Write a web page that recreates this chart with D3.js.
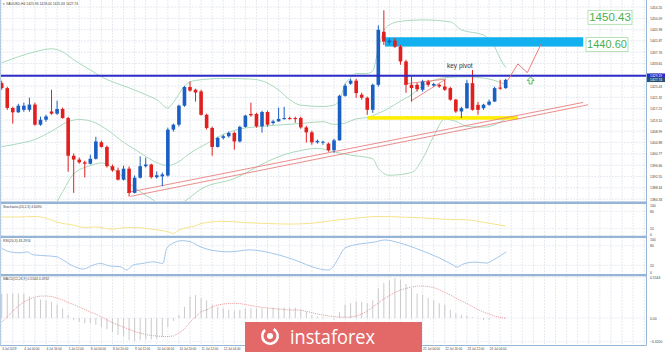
<!DOCTYPE html>
<html>
<head>
<meta charset="utf-8">
<script src="https://cdn.jsdelivr.net/npm/d3@7"></script>
<style>
  body { margin: 0; background: #fff; }
  svg { display: block; font-family: "Liberation Sans", Arial, sans-serif; }
</style>
</head>
<body>
<svg id="chart" width="665" height="352"></svg>
<script>
// XAUUSD H4 candles, index 0 = 3 Jul 2019
const candleOpen = [1426.5,1424.7,1417.5,1415.9,1416.8,1416.8,1418.7,1411.4,1413.2,1416.2,
  1415.4,1417.1,1413.8,1400.1,1398.7,1397.7,1397.2,1399.0,1405.0,1403.3,
  1396.3,1394.8,1391.4,1395.4,1386.6,1392.1,1396.3,1396.9,1392.3,1392.6,
  1392.9,1409.6,1411.4,1418.3,1425.1,1424.1,1423.5,1415.0,1410.2,1403.3,
  1406.6,1407.2,1408.4,1405.3,1410.6,1415.3,1415.3,1410.8,1416.0,1412.0,
  1412.6,1413.5,1413.8,1413.8,1413.8,1410.4,1408.6,1405.0,1404.9,1404.5,
  1402.1,1405.7,1421.9,1426.3,1427.4,1422.3,1421.2,1416.8,1425.9,1445.2,
  1441.4,1442.0,1439.8,1434.4,1425.9,1425.9,1424.1,1427.1,1425.65,1425.9,
  1425.3,1424.7,1420.5,1416.2,1417.4,1426.5,1418.6,1417.4,1418.65,1419.8,
  1424.9,1424.7];
const candleHigh = [1427.4,1425.2,1417.9,1419.0,1419.4,1421.2,1419.4,1414.3,1415.0,1424.1,
  1420.1,1417.6,1414.3,1400.9,1399.4,1398.3,1400.5,1407.0,1405.6,1403.8,
  1396.9,1395.8,1396.5,1396.2,1392.9,1399.9,1399.4,1397.2,1394.4,1394.0,
  1410.3,1411.8,1418.7,1425.5,1427.1,1424.5,1424.1,1415.4,1410.7,1407.0,
  1407.8,1408.9,1408.9,1411.0,1415.0,1419.4,1415.7,1416.5,1416.5,1413.2,
  1417.6,1417.9,1414.3,1414.3,1414.3,1411.0,1409.2,1406.0,1405.6,1404.9,
  1406.3,1422.3,1426.3,1428.1,1428.1,1423.0,1421.6,1426.3,1447.5,1453.0,
  1442.9,1442.9,1440.4,1435.0,1428.9,1426.6,1427.7,1427.7,1426.6,1426.3,
  1427.7,1425.2,1420.8,1417.9,1427.7,1431.3,1419.7,1419.0,1420.5,1425.2,
  1427.7,1428.1];
const candleLow = [1424.1,1416.8,1411.8,1415.7,1416.1,1416.1,1411.0,1411.0,1412.5,1415.0,
  1415.0,1413.6,1394.3,1386.6,1397.2,1392.2,1396.9,1398.7,1403.1,1395.8,
  1394.3,1391.1,1391.1,1385.3,1386.4,1391.8,1395.8,1391.8,1391.8,1389.0,
  1392.5,1408.9,1410.7,1417.9,1423.4,1419.8,1414.7,1409.6,1400.1,1403.1,
  1406.0,1406.7,1402.3,1404.9,1410.3,1414.3,1410.3,1408.5,1410.7,1411.4,
  1412.5,1413.2,1413.2,1412.1,1409.9,1404.9,1404.1,1404.5,1404.1,1401.6,
  1401.2,1405.6,1421.6,1425.9,1421.2,1420.5,1415.0,1415.7,1425.2,1440.4,
  1440.4,1439.3,1433.2,1423.0,1419.8,1423.4,1423.4,1425.2,1425.2,1424.8,
  1423.7,1420.1,1415.7,1413.8,1417.2,1416.5,1415.0,1416.8,1418.3,1419.7,
  1424.1,1424.45];
const candleClose = [1424.7,1417.5,1415.9,1418.3,1418.3,1418.7,1411.4,1413.2,1414.4,1415.4,
  1417.1,1413.8,1400.1,1398.7,1397.7,1397.2,1399.0,1405.3,1403.3,1396.3,
  1394.8,1391.4,1395.4,1386.6,1392.1,1396.3,1396.9,1392.3,1393.0,1393.3,
  1409.6,1411.4,1418.3,1425.1,1423.8,1423.1,1415.0,1410.2,1403.3,1406.6,
  1407.2,1408.4,1405.3,1410.6,1414.7,1414.8,1410.8,1416.0,1411.4,1412.6,
  1413.5,1413.8,1413.6,1413.6,1410.4,1408.6,1405.0,1405.5,1405.2,1402.1,
  1405.7,1421.9,1425.6,1427.4,1422.9,1421.2,1416.8,1425.9,1445.9,1441.6,
  1442.0,1439.8,1434.4,1425.9,1424.7,1424.3,1427.1,1425.9,1426.2,1425.3,
  1424.1,1420.5,1416.2,1417.4,1426.5,1416.8,1416.8,1418.65,1419.8,1424.7,
  1424.5,1427.7];

// Bollinger bands, read at these candle indices
const bandUpperIdx = [0,3,6,9,11,13,16,18,20,23,26,28,30,31,32,33,35,40,45,48,50,52,54,58,60,61,62,63,64,66,67,68,69,70,72,76,81,83,87,89,90,91];
const bandUpper = [1433.9,1436.1,1437.9,1439.0,1437.9,1435.0,1431.3,1428.8,1427.0,1424.8,1422.3,1420.5,1417.5,1419.5,1422.5,1425.5,1427.5,1428.2,1428.0,1426.5,1424.0,1420.5,1418.5,1418.0,1418.5,1420.5,1426.0,1428.5,1430.0,1430.0,1431.0,1439.0,1445.5,1447.7,1449.0,1449.5,1448.8,1445.9,1444.0,1439.7,1435.5,1432.1];
const bandMidIdx = [0,3,6,9,12,14,17,19,22,25,28,30,32,34,37,40,43,47,51,55,58,60,62,64,66,68,70,72,74,76,78,80,84,88,91];
const bandMid = [1403.4,1404.5,1406.0,1409.0,1412.5,1413.3,1412.0,1409.6,1405.0,1401.2,1397.6,1396.5,1398.0,1401.0,1404.5,1407.8,1409.8,1410.8,1411.4,1412.0,1412.5,1411.5,1412.0,1413.5,1414.0,1415.5,1417.5,1420.0,1422.3,1425.5,1427.5,1428.5,1428.8,1428.0,1426.0];
const bandLowerIdx = [0,3,6,9,11,13,16,18,21,24,27,30,33,36,42,48,51,54,57,60,63,66,67,68,70,74,76,78,80,82,84,87,91];
const bandLower = [1372.9,1373.0,1374.0,1380.0,1387.0,1393.5,1396.5,1397.5,1394.0,1388.5,1384.5,1381.0,1383.5,1388.0,1391.8,1398.0,1400.5,1402.0,1402.8,1401.5,1400.3,1399.5,1399.0,1395.5,1393.0,1394.0,1399.0,1407.2,1413.4,1412.6,1410.8,1410.5,1413.4];

// oscillator panels
const stochIdx = [0,3,6,8,10,13,15,17,20,22,24,27,30,31,32,35,36,40,44,48,52,56,60,64,68,72,76,80,84,88,91];
const stochVal = [60,60,62,56,42,31,23,25,17,22,23,17,8,2,14,29,37,45,40,37,35,38,48,56,62,60,57,52,50,38,28];
const rsiIdx = [0,1.5,3.3,4.6,5.7,8.2,10,10.5,12.9,14.7,16.5,17.8,19.6,21.4,22.6,23.7,25.5,27.3,29.1,29.8,30.9,32.6,34,35.8,37.6,41.2,44.8,48.5,51.2,53.9,56.2,58.9,59.8,60.6,62,64.7,67.4,69.2,71.9,75.5,79.1,81.5,82.2,83.3,85.5,87.6,88.7,90,91.1];
const rsiVal = [72,61,58,61,52,49,46,42,18,9,21,26,18,16,6,21,26,31,26,72,87,95,92,77,67,61,67,58,46,30,15,6,15,36,73,85,91,97,88,67,42,21,15,24,30,27,36,49,61];
const macdHist = [0.33,0.33,0.33,0.33,0.33,0.29,0.27,0.25,0.24,0.22,
  0.18,0.13,0.04,-0.03,-0.05,-0.07,-0.07,-0.09,-0.12,-0.15,
  -0.19,-0.23,-0.25,-0.30,-0.31,-0.30,-0.29,-0.29,-0.28,-0.25,
  -0.12,-0.04,0.04,0.15,0.29,0.31,0.27,0.24,0.18,0.15,
  0.13,0.11,0.10,0.11,0.13,0.13,0.13,0.13,0.13,0.14,
  0.13,0.14,0.14,0.14,0.11,0.085,0.04,0.02,0.01,0.0,
  -0.02,0.08,0.18,0.20,0.22,0.22,0.20,0.24,0.40,0.47,
  0.51,0.54,0.52,0.46,0.40,0.33,0.31,0.27,0.24,0.20,
  0.18,0.11,0.06,0.04,0.03,0.01,-0.005,-0.03,-0.02,0.0,
  0.01,0.01];
const macdSignal = [-0.054,0.014,0.095,0.162,0.216,0.257,0.284,0.297,0.297,0.291,
  0.270,0.243,0.209,0.182,0.149,0.115,0.081,0.054,0.014,-0.027,
  -0.061,-0.095,-0.122,-0.155,-0.182,-0.203,-0.223,-0.236,-0.243,-0.250,
  -0.250,-0.243,-0.203,-0.149,-0.054,0.014,0.088,0.108,0.149,0.176,
  0.189,0.196,0.199,0.196,0.182,0.169,0.155,0.142,0.135,0.128,
  0.122,0.115,0.108,0.108,0.108,0.088,0.074,0.054,0.041,0.027,
  0.020,0.014,0.009,0.014,0.027,0.054,0.095,0.149,0.203,0.257,
  0.304,0.345,0.378,0.399,0.419,0.432,0.432,0.426,0.412,0.385,
  0.345,0.311,0.270,0.230,0.196,0.155,0.115,0.081,0.054,0.027,
  0.007,-0.004];

// axis ticks
const priceTicks = [1454.20,1450.09,1445.98,1441.87,1437.76,1433.65,1429.54,1425.43,1421.32,1417.21,1413.10,1408.99,1404.88,1400.77,1396.66,1392.55,1388.44,1384.33];
const timeTickIdx = [0,4,8,12,16,20,24,28,32,36,40,44,48,52,56,60,64,68,72,76,80,84,88];
const timeTickLabels = ["3 Jul 2019","4 Jul 00:00","4 Jul 16:00","5 Jul 12:00","8 Jul 04:00","8 Jul 20:00","9 Jul 12:00","10 Jul 04:00","10 Jul 20:00","11 Jul 12:00","12 Jul 04:00","12 Jul 20:00","15 Jul 12:00","16 Jul 04:00","16 Jul 20:00","17 Jul 12:00","18 Jul 04:00","18 Jul 20:00","19 Jul 12:00","22 Jul 04:00","22 Jul 20:00","23 Jul 12:00","24 Jul 04:00"];

// drawn analysis objects (candle index / price)
const pivotLevel = 1429.19;
const lastPrice = 1427.74;
const targetHigh = 1450.43;
const targetLow = 1440.60;
const resistZone = { i0: 69.2, i1: 105.0, top: 1443.2, bottom: 1439.8 };
const supportZone = { i0: 66.0, i1: 93.2, top: 1414.5, bottom: 1413.2 };
const trendLines = [
  [[22.6, 1386.7], [105.0, 1419.5]],
  [[23.2, 1385.3], [105.9, 1418.65]]
];
const pivotWedge = [
  [[73.9, 1420.0], [80.2, 1428.0]],
  [[72.6, 1426.2], [80.2, 1428.0]]
];
const projectionPath = [[91.2, 1427.0], [93.2, 1433.5], [94.9, 1430.3], [97.4, 1440.8]];
const arrowAt = [95.5, 1427.5];
const pivotTextAt = [80.4, 1432.0];

const plotRight = 646;
const logoBox = { x: 245, y: 322, w: 177, h: 30 };
const svg = d3.select("#chart");

const x = d3.scaleLinear().domain([0, 91]).range([1.7, 505.7]);
const y = d3.scaleLinear().domain([1384.33, 1454.2]).range([199.1, 7]);
const yStoch = d3.scaleLinear().domain([0, 100]).range([234, 205.7]);
const yRsi = d3.scaleLinear().domain([0, 100]).range([272, 239]);
const yMacd = d3.scaleLinear().domain([-0.32, 0.5544]).range([341.7, 277]);

const defs = svg.append("defs");
const clips = { main: [0, 201.5], stoch: [204, 235.5], rsi: [238.2, 273.8], macd: [276.3, 345] };
Object.entries(clips).forEach(([k, [t, b]]) => {
  defs.append("clipPath").attr("id", "clip-" + k)
    .append("rect").attr("x", 0).attr("y", t).attr("width", plotRight).attr("height", b - t);
});

// grid
const grid = svg.append("g");
const vIdx = d3.range(0, 118, 2).filter(i => x(i) < plotRight);
grid.selectAll(".vg").data(vIdx).enter().append("line")
  .attr("x1", d => x(d)).attr("x2", d => x(d)).attr("y1", 0).attr("y2", 345)
  .attr("stroke", "#dfe5ee").attr("stroke-width", 0.8).attr("stroke-dasharray", "2,1");
grid.selectAll(".hg").data(priceTicks).enter().append("line")
  .attr("x1", 0).attr("x2", plotRight).attr("y1", d => y(d)).attr("y2", d => y(d))
  .attr("stroke", "#dfe5ee").attr("stroke-width", 0.8).attr("stroke-dasharray", "2,1");
[[yStoch, [80, 20]], [yRsi, [80, 20]], [yMacd, [0.5544, 0, -0.32]]].forEach(([sc, vals]) => {
  grid.selectAll(null).data(vals).enter().append("line")
    .attr("x1", 0).attr("x2", plotRight).attr("y1", d => sc(d)).attr("y2", d => sc(d))
    .attr("stroke", "#e3e8f0").attr("stroke-width", 0.8).attr("stroke-dasharray", "2,1");
});

// main panel
const main = svg.append("g").attr("clip-path", "url(#clip-main)");
const band = d3.line().x(d => x(d[0])).y(d => y(d[1])).curve(d3.curveMonotoneX);
[[bandUpperIdx, bandUpper], [bandMidIdx, bandMid], [bandLowerIdx, bandLower]].forEach(([idx, vals]) => {
  main.append("path").datum(idx.map((d, i) => [d, vals[i]]))
    .attr("fill", "none").attr("stroke", "#a9d9bb").attr("stroke-width", 1).attr("d", band);
});

// support / resistance zones
main.append("rect")
  .attr("x", x(resistZone.i0)).attr("width", x(resistZone.i1) - x(resistZone.i0))
  .attr("y", y(resistZone.top)).attr("height", y(resistZone.bottom) - y(resistZone.top))
  .attr("fill", "#12b0ee");
main.append("rect")
  .attr("x", x(supportZone.i0)).attr("width", x(supportZone.i1) - x(supportZone.i0))
  .attr("y", y(supportZone.top)).attr("height", y(supportZone.bottom) - y(supportZone.top))
  .attr("fill", "#ffee00");

// trend channel
const seg = d3.line().x(d => x(d[0])).y(d => y(d[1]));
trendLines.concat(pivotWedge).forEach(l => {
  main.append("path").datum(l).attr("d", seg).attr("fill", "none")
    .attr("stroke", "#e98080").attr("stroke-width", 0.9);
});

// candles
const candles = d3.range(candleOpen.length).map(i => ({
  i, o: candleOpen[i], h: candleHigh[i], l: candleLow[i], c: candleClose[i]
}));
const colorOf = d => d.c >= d.o ? "#1a5fc4" : "#e11f1f";
const cg = main.selectAll(".candle").data(candles).enter().append("g");
cg.append("line")
  .attr("x1", d => x(d.i)).attr("x2", d => x(d.i))
  .attr("y1", d => y(d.h)).attr("y2", d => y(d.l))
  .attr("stroke", colorOf).attr("stroke-width", 1);
cg.append("rect")
  .attr("x", d => x(d.i) - 1.8).attr("width", 3.6)
  .attr("y", d => y(Math.max(d.o, d.c)))
  .attr("height", d => Math.max(1, Math.abs(y(d.o) - y(d.c))))
  .attr("fill", colorOf);

// pivot level
main.append("line").attr("x1", 0).attr("x2", plotRight)
  .attr("y1", y(pivotLevel)).attr("y2", y(pivotLevel))
  .attr("stroke", "#2c2cc8").attr("stroke-width", 2);

// projection + arrow
main.append("path").datum(projectionPath).attr("d", seg).attr("fill", "none")
  .attr("stroke", "#ee6b6b").attr("stroke-width", 0.9);
const ax = x(arrowAt[0]), ay = y(arrowAt[1]);
main.append("path")
  .attr("d", `M${ax},${ay - 3.5} L${ax + 3.5},${ay} L${ax + 1.5},${ay} L${ax + 1.5},${ay + 3.5} L${ax - 1.5},${ay + 3.5} L${ax - 1.5},${ay} L${ax - 3.5},${ay} Z`)
  .attr("fill", "#fff").attr("stroke", "#45b649").attr("stroke-width", 0.9);

main.append("text").attr("x", x(pivotTextAt[0])).attr("y", y(pivotTextAt[1]))
  .attr("font-size", 6.5).attr("fill", "#333").text("key pivot");

// target labels
[[targetHigh, 588, 44, 11.5], [targetLow, 586, 42, 11]].forEach(([v, lx, w, fs]) => {
  const cy = y(v);
  svg.append("rect").attr("x", lx).attr("y", cy - 7).attr("width", w).attr("height", 14)
    .attr("fill", "#fff").attr("stroke", "#a6dca6").attr("stroke-width", 0.8);
  svg.append("text").attr("x", lx + w / 2).attr("y", cy + 4).attr("text-anchor", "middle")
    .attr("font-size", fs).attr("fill", "#4cae4c").text(d3.format(".2f")(v));
});

// stochastic
const stochLine = d3.line().x(d => x(d[0])).y(d => yStoch(d[1])).curve(d3.curveMonotoneX);
svg.append("g").attr("clip-path", "url(#clip-stoch)").append("path")
  .datum(stochIdx.map((d, i) => [d, stochVal[i]]))
  .attr("fill", "none").attr("stroke", "#f6e38c").attr("stroke-width", 1).attr("d", stochLine);

// rsi
const rsiLine = d3.line().x(d => x(d[0])).y(d => yRsi(d[1])).curve(d3.curveMonotoneX);
svg.append("g").attr("clip-path", "url(#clip-rsi)").append("path")
  .datum(rsiIdx.map((d, i) => [d, rsiVal[i]]))
  .attr("fill", "none").attr("stroke", "#a3c6ea").attr("stroke-width", 1).attr("d", rsiLine);

// macd
const mg = svg.append("g").attr("clip-path", "url(#clip-macd)");
mg.selectAll(".bar").data(macdHist).enter().append("line")
  .attr("x1", (d, i) => x(i)).attr("x2", (d, i) => x(i))
  .attr("y1", yMacd(0)).attr("y2", d => yMacd(d))
  .attr("stroke", "#c4c4c4").attr("stroke-width", 0.9);
mg.append("path").datum(macdSignal)
  .attr("fill", "none").attr("stroke", "#e58c8c").attr("stroke-width", 0.9)
  .attr("stroke-dasharray", "1,1")
  .attr("d", d3.line().x((d, i) => x(i)).y(d => yMacd(d)));

// panel separators and frame
[202.8, 236.9, 275.1].forEach(v => {
  svg.append("line").attr("x1", 0).attr("x2", plotRight).attr("y1", v).attr("y2", v)
    .attr("stroke", "#95b4d6").attr("stroke-width", 2.4);
});
svg.append("line").attr("x1", 0).attr("x2", plotRight).attr("y1", 345.5).attr("y2", 345.5)
  .attr("stroke", "#95b4d6").attr("stroke-width", 1);
svg.append("line").attr("x1", plotRight + 0.5).attr("x2", plotRight + 0.5).attr("y1", 0).attr("y2", 345.5)
  .attr("stroke", "#95b4d6").attr("stroke-width", 1);
svg.append("line").attr("x1", 0.5).attr("x2", 0.5).attr("y1", 0).attr("y2", 345.5)
  .attr("stroke", "#b7cce3").attr("stroke-width", 1);

// axes
const axisFont = s => g => g.selectAll("text").attr("font-size", s).attr("fill", "#444");
svg.append("g").attr("transform", `translate(${plotRight},0)`)
  .call(d3.axisRight(y).tickValues(priceTicks).tickSize(0).tickPadding(4).tickFormat(d3.format(".2f")))
  .call(g => g.select(".domain").remove()).call(axisFont(3.4));
svg.append("g").attr("transform", `translate(${plotRight},0)`)
  .call(d3.axisRight(yStoch).tickValues([100, 80, 20, 0]).tickSize(0).tickPadding(4))
  .call(g => g.select(".domain").remove()).call(axisFont(3.4));
svg.append("g").attr("transform", `translate(${plotRight},0)`)
  .call(d3.axisRight(yRsi).tickValues([100, 80, 20, 0]).tickSize(0).tickPadding(4))
  .call(g => g.select(".domain").remove()).call(axisFont(3.4));
svg.append("g").attr("transform", `translate(${plotRight},0)`)
  .call(d3.axisRight(yMacd).tickValues([0.5544, 0, -0.32]).tickSize(0).tickPadding(4)
    .tickFormat(d => d === 0 ? "0.00" : d3.format(".4f")(d)))
  .call(g => g.select(".domain").remove()).call(axisFont(3.4));
// time labels that sit under the logo are hidden in the picture
const visibleTimeIdx = timeTickIdx.filter(i => x(i) + 16 < logoBox.x || x(i) > logoBox.x + logoBox.w);
svg.append("g").attr("transform", "translate(0,345)")
  .call(d3.axisBottom(x).tickValues(visibleTimeIdx).tickSize(0).tickPadding(2.5)
    .tickFormat(d => timeTickLabels[timeTickIdx.indexOf(d)]))
  .call(g => g.select(".domain").remove()).call(axisFont(3.1))
  .call(g => g.selectAll("text").attr("text-anchor", "start"));

// price tags on the axis
[[pivotLevel, "#2c2cc8"], [lastPrice, "#274f78"]].forEach(([v, c]) => {
  svg.append("rect").attr("x", plotRight + 1).attr("y", y(v) - 2.3).attr("width", 18).attr("height", 4.6).attr("fill", c);
  svg.append("text").attr("x", plotRight + 4).attr("y", y(v) + 1.2)
    .attr("font-size", 3.4).attr("fill", "#fff").text(d3.format(".2f")(v));
});

// panel captions
const caption = (t, yy) => svg.append("text").attr("x", 3).attr("y", yy)
  .attr("font-size", 3.4).attr("fill", "#444").text(t);
caption("\u25BE XAUUSD,H4  1425.96 1428.04 1425.63 1427.74", 4.5);
caption("Stochastic(20,2,3) 4.6090", 208.3);
caption("RSI(20,3) 43.2916", 242.3);
caption("MACD(12,26,9) 0.5544 0.0932", 280.3);

// logo
const logo = svg.append("g");
logo.append("rect").attr("x", logoBox.x).attr("y", logoBox.y).attr("width", logoBox.w).attr("height", logoBox.h).attr("fill", "#e36868");
logo.append("path")
  .attr("d", d3.arc()({ innerRadius: 6.5, outerRadius: 9, startAngle: 0.5, endAngle: 5.6 }))
  .attr("transform", "translate(270,336)").attr("fill", "#fff");
logo.append("circle").attr("cx", 270).attr("cy", 336).attr("r", 3).attr("fill", "#fff");
logo.append("text").attr("x", 290).attr("y", 344).attr("font-family", "'Open Sans', sans-serif")
  .attr("font-size", 20).attr("fill", "#fff").attr("textLength", 85).attr("lengthAdjust", "spacingAndGlyphs")
  .text("instaforex");
</script>
</body>
</html>
